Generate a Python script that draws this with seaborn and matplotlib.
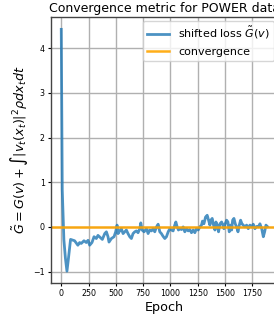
import numpy as np
import pandas as pd
import matplotlib
matplotlib.use("Agg")
import matplotlib.pyplot as plt
import seaborn as sns

# shifted loss, (epoch, value)
epochs = [0, 9, 24, 38, 52, 66, 85, 122, 152, 168, 183, 208, 229, 245, 260,
          281, 300, 321, 336, 358, 376, 398, 413, 428, 437, 459, 483, 498,
          511, 520, 535, 550, 566, 581, 596, 611, 627, 642, 657, 673, 688,
          703, 719, 728, 740, 758, 780, 795, 810, 826, 841, 856, 872, 887,
          902, 917, 932, 948, 963, 979, 994, 1009, 1024, 1039, 1049, 1061,
          1073, 1085, 1101, 1116, 1131, 1147, 1162, 1177, 1192, 1208, 1223,
          1238, 1254, 1269, 1284, 1293, 1306, 1321, 1336, 1348, 1361, 1370,
          1382, 1391, 1407, 1416, 1428, 1440, 1453, 1468, 1477, 1489, 1501,
          1514, 1526, 1538, 1550, 1560, 1569, 1581, 1593, 1605, 1618, 1630,
          1642, 1654, 1666, 1682, 1697, 1712, 1727, 1743, 1758, 1773, 1789,
          1804, 1819, 1835, 1850, 1862, 1874, 1886]
shifted_loss = [4.42, 0.83, -0.29, -0.70, -0.99, -0.70, -0.28, -0.31, -0.41,
                -0.35, -0.37, -0.31, -0.35, -0.30, -0.41, -0.35, -0.22, -0.26,
                -0.19, -0.24, -0.28, -0.15, -0.11, -0.22, -0.34, -0.26, -0.22,
                -0.11, 0.04, -0.15, -0.09, -0.04, -0.15, -0.11, -0.07, -0.15,
                -0.22, -0.26, -0.15, -0.11, -0.09, -0.13, -0.04, 0.09, -0.07,
                -0.11, -0.04, -0.15, -0.07, -0.09, -0.04, -0.11, 0.00, 0.06,
                -0.11, -0.15, -0.21, -0.26, -0.22, -0.11, -0.04, -0.07, -0.09,
                0.04, 0.11, 0.00, -0.07, -0.04, -0.06, 0.00, -0.11, -0.04,
                -0.09, -0.06, -0.13, -0.07, -0.13, -0.04, -0.07, 0.00, 0.04,
                0.13, 0.07, 0.22, 0.26, 0.15, 0.04, 0.15, 0.19, 0.07, -0.07,
                0.11, 0.04, -0.11, 0.07, 0.11, 0.06, -0.04, 0.07, 0.15, 0.11,
                -0.11, 0.04, -0.07, 0.15, 0.19, 0.07, 0.00, -0.11, 0.04, 0.15,
                0.07, 0.04, 0.00, 0.04, -0.04, 0.04, 0.00, 0.06, -0.04, 0.01,
                0.00, 0.07, -0.04, -0.22, -0.11, 0.04, 0.01]
convergence_level = 0.0

df = pd.DataFrame({"Epoch": epochs, "loss": shifted_loss})

fig = plt.figure(figsize=(2.74, 3.14), dpi=100)
ax = fig.add_axes([0.186, 0.098, 0.827, 0.847])

sns.lineplot(data=df, x="Epoch", y="loss", ax=ax, color="#1f77b4", alpha=0.8,
             linewidth=2.0, label=r"shifted loss $\tilde{G}(v)$")
ax.axhline(convergence_level, color="orange", alpha=0.9, linewidth=1.8,
           label="convergence")

ax.set_xticks([0, 250, 500, 750, 1000, 1250, 1500, 1750])
ax.set_yticks([-1, 0, 1, 2, 3, 4])
ax.tick_params(labelsize=5.7, length=2.5, width=0.8, pad=2)
ax.grid(True, color="#b0b0b0", linewidth=1.0)
ax.set_axisbelow(True)
for s in ax.spines.values():
    s.set_color("#444444")
    s.set_linewidth(1.0)

ax.set_xlabel("Epoch", fontsize=9.2, labelpad=2)
ax.set_ylabel(r"$\tilde{G} = G(v) + \int |v_t(x_t)|^2 \rho dx_t dt$",
              fontsize=9.2, labelpad=2)
ax.set_title("Convergence metric for POWER data", fontsize=9, pad=4)
ax.legend(loc="upper right", fontsize=8, borderaxespad=0.3, handlelength=2.0)

fig.savefig("out.png", dpi=100)
